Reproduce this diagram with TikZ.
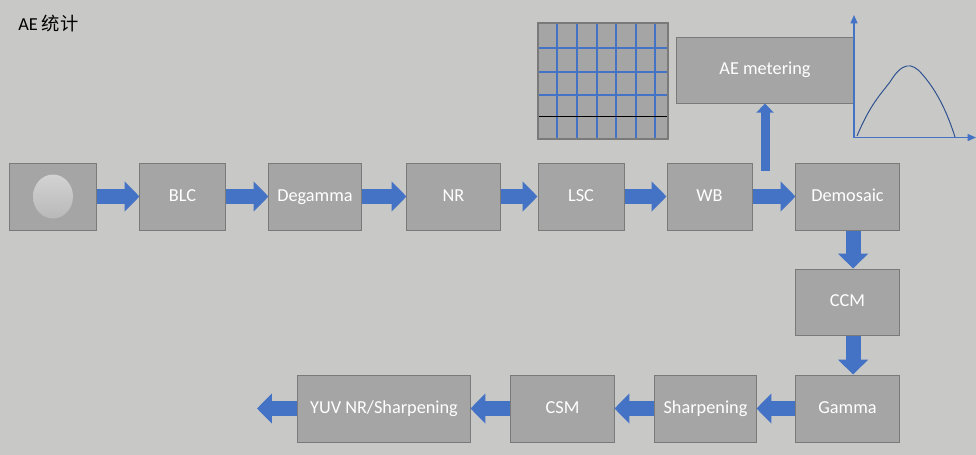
\documentclass[tikz,border=0pt]{standalone}
\usepackage{fontspec}
\setmainfont{Carlito}
\newfontfamily\cjkfont{Noto Sans CJK SC}
\usetikzlibrary{arrows.meta}
\definecolor{bggray}{HTML}{C8C8C7}
\definecolor{boxgray}{HTML}{A5A5A5}
\definecolor{boxline}{HTML}{7A7A7A}
\definecolor{arrowblue}{HTML}{4472C4}
\definecolor{curveblue}{HTML}{2F528F}
\tikzset{
  isp/.style={draw=boxline, fill=boxgray, text=white, font=\fontsize{13}{15}\selectfont,
    minimum height=1.675cm, inner sep=0pt, line width=0.7pt,
    text height=1.6ex, text depth=0.2ex},
  blockarrow/.style={draw=arrowblue, line width=0.37cm,
    -{Triangle[width=0.73cm,length=0.37cm]}},
  smallarrow/.style={draw=arrowblue, line width=0.225cm,
    -{Triangle[width=0.425cm,length=0.23cm]}},
  axis/.style={draw=arrowblue, line width=1pt, -{Triangle[width=5pt,length=6pt]}},
}
\begin{document}
\begin{tikzpicture}[x=0.025cm,y=-0.025cm]
  % Hintergrund
  \fill[bggray] (0,0) rectangle (976,455);
  \useasboundingbox (0,0) rectangle (976,455);

  % Titel
  \node[anchor=west, font=\fontsize{13}{15}\selectfont, inner sep=0pt] (title) at (18,24)
    {AE {\cjkfont 统计}};

  % obere Reihe
  \node[isp, minimum width=2.15cm] (sensor) at (53,196.5) {};
  \shade[top color=gray!35, bottom color=gray!55] (sensor.center) ellipse (20 and 22);
  \node[isp, minimum width=2.125cm] (blc) at (182.5,196.5) {BLC};
  \node[isp, minimum width=2.3cm] (degamma) at (315,196.5) {Degamma};
  \node[isp, minimum width=2.325cm] (nr) at (453.5,196.5) {NR};
  \node[isp, minimum width=2.15cm] (lsc) at (581,196.5) {LSC};
  \node[isp, minimum width=2.125cm] (wb) at (709.5,196.5) {WB};
  \node[isp, minimum width=2.575cm] (demosaic) at (847.5,196.5) {Demosaic};

  % rechte Spalte
  \node[isp, minimum width=2.575cm, minimum height=1.65cm] (ccm) at (847.5,302) {CCM};
  \node[isp, minimum width=2.575cm] (gamma) at (847.5,408.5) {Gamma};

  % untere Reihe
  \node[isp, minimum width=2.525cm] (sharp) at (705.5,408.5) {Sharpening};
  \node[isp, minimum width=2.575cm] (csm) at (562.5,408.5) {CSM};
  \node[isp, minimum width=4.3cm] (yuv) at (384,408.5) {YUV NR/Sharpening};
  \coordinate (out) at (257,408.5);

  % AE
  \node[isp, minimum width=4.4cm, minimum height=1.65cm] (ae) at (765,70) {AE metering};
  \coordinate (aestart) at (765,171);

  % Raster
  \fill[boxgray] (538,23) rectangle (668,139);
  \foreach \gx in {557,577,597,616,636,655}
    \draw[arrowblue, line width=1.2pt] (\gx,23) -- (\gx,139);
  \foreach \gy in {48,72,95}
    \draw[arrowblue, line width=1.2pt] (538,\gy) -- (668,\gy);
  \draw[black, line width=1.2pt] (538,116.5) -- (668,116.5);
  \draw[boxline, line width=0.9pt] (538,23) rectangle (668,139);

  % Histogramm
  \coordinate (o) at (854,137.5);
  \draw[axis] (o) -- (854,15);
  \draw[axis] (o) -- (976,137.5);
  \draw[curveblue, line width=0.7pt] (857,136) .. controls (870,105) and (880,95) .. (890,82)
    .. controls (902,62) and (912,62) .. (922,74)
    .. controls (938,92) and (948,115) .. (955,137);

  % Pfeile
  \draw[blockarrow] (sensor.east) -- (blc.west);
  \draw[blockarrow] (blc.east) -- (degamma.west);
  \draw[blockarrow] (degamma.east) -- (nr.west);
  \draw[blockarrow] (nr.east) -- (lsc.west);
  \draw[blockarrow] (lsc.east) -- (wb.west);
  \draw[blockarrow] (wb.east) -- (demosaic.west);
  \draw[blockarrow] ([xshift=0.14cm]demosaic.south) -- ([xshift=0.14cm]ccm.north);
  \draw[blockarrow] ([xshift=0.14cm]ccm.south) -- ([xshift=0.14cm]gamma.north);
  \draw[blockarrow] (gamma.west) -- (sharp.east);
  \draw[blockarrow] (sharp.west) -- (csm.east);
  \draw[blockarrow] (csm.west) -- (yuv.east);
  \draw[blockarrow] (yuv.west) -- (out);
  \draw[smallarrow] (aestart) -- (ae.south);
\end{tikzpicture}
\end{document}
